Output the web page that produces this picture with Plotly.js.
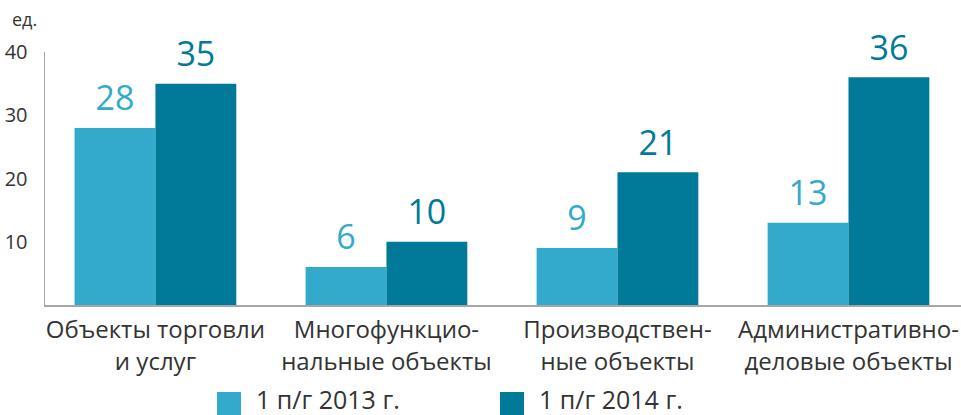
<!DOCTYPE html>
<html><head><meta charset="utf-8">
<script src="https://cdn.plot.ly/plotly-3.0.1.min.js"></script>
<style>html,body{margin:0;padding:0;background:#fff}#chart{width:961px;height:415px}</style>
</head><body><div id="chart"></div>
<script>
const categories = ["Объекты торговли<br>и услуг", "Многофункцио-<br>нальные объекты", "Производствен-<br>ные объекты", "Административно-<br>деловые объекты"];
const seriesNames = ["1 п/г 2013 г.", "1 п/г 2014 г."];
const values2013 = [28, 6, 9, 13];
const values2014 = [35, 10, 21, 36];
const yTicks = [10, 20, 30, 40];
const unitLabel = "ед.";
const colors = ["#33aacb", "#017a99"];
const FONT = "Open Sans, Noto Sans, sans-serif";

const series = [values2013, values2014];
const traces = series.map((v, i) => ({
  type: "bar", x: categories, y: v, name: seriesNames[i],
  marker: {color: colors[i]}, showlegend: false, hoverinfo: "skip"
}));
series.forEach((v, i) => traces.push({
  type: "scatter", mode: "markers+text", x: categories, y: v, name: seriesNames[i],
  marker: {size: 13, opacity: 0, color: colors[i]},
  text: v.map(String), textposition: "top center",
  textfont: {family: FONT, size: 34, color: colors[i]},
  cliponaxis: false, showlegend: false, hoverinfo: "skip"
}));

const L = 45, T = 52, PW = 916, PH = 253;
const px = x => (x - L) / PW, py = y => (T + PH - y) / PH;
const shapes = [], annotations = [];
const legX = [217, 500];
seriesNames.forEach((n, i) => {
  shapes.push({type: "rect", xref: "paper", yref: "paper", x0: px(legX[i]), x1: px(legX[i] + 24), y0: py(392), y1: py(416), fillcolor: colors[i], line: {width: 0}});
  annotations.push({xref: "paper", yref: "paper", x: px(legX[i] + 37), y: py(399), xanchor: "left", yanchor: "middle", text: n, showarrow: false, font: {family: FONT, size: 25, color: "#333"}});
});
annotations.push({xref: "paper", yref: "paper", x: px(10), y: py(19), xanchor: "left", yanchor: "middle", text: unitLabel, showarrow: false, font: {family: FONT, size: 18, color: "#333"}});

Plotly.newPlot("chart", traces, {
  width: 961, height: 415,
  margin: {l: L, r: 0, t: T, b: 415 - T - PH, pad: 0},
  paper_bgcolor: "#fff", plot_bgcolor: "#fff",
  barmode: "group", bargap: 0.3, bargroupgap: 0,
  scattermode: "group", scattergap: 0.3,
  font: {family: FONT, color: "#333"},
  xaxis: {range: [-0.478, 3.487], showline: true, linecolor: "#a6a6a6", linewidth: 1.5, ticks: "", showgrid: false, zeroline: false,
          tickfont: {family: FONT, size: 24, color: "#333"}, ticklabelstandoff: 3, fixedrange: true},
  yaxis: {range: [0, 40], tickvals: yTicks, ticktext: yTicks.map(String), showline: true, linecolor: "#a6a6a6", linewidth: 1.5, ticks: "",
          showgrid: false, zeroline: false, tickfont: {family: FONT, size: 20, color: "#333"}, ticklabelstandoff: 12, fixedrange: true},
  shapes, annotations
}, {staticPlot: true});
</script></body></html>
